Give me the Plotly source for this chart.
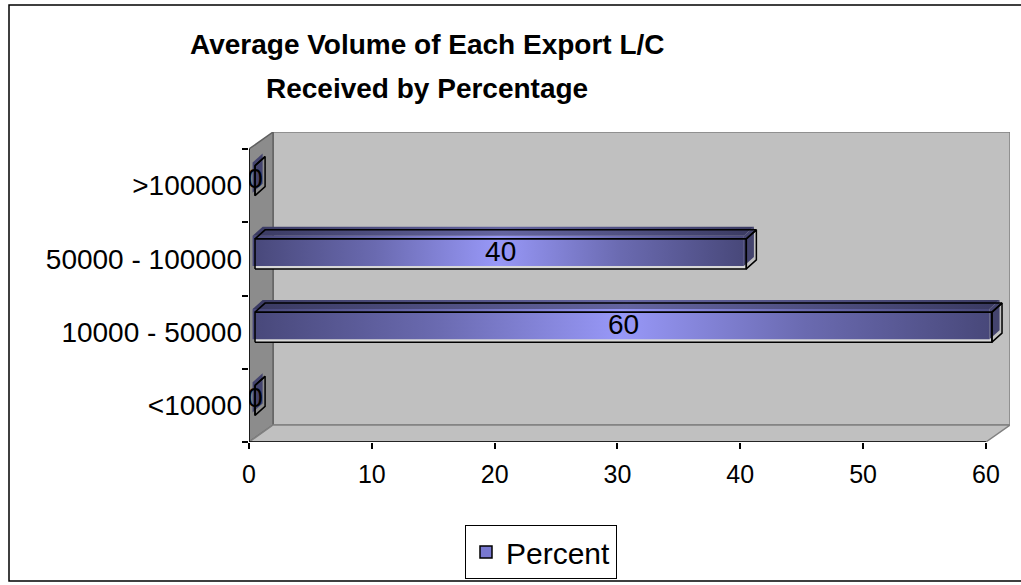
import plotly.graph_objects as go

# ---- data ----
categories = ["<10000", "10000 - 50000", "50000 - 100000", ">100000"]
percent = [0, 60, 40, 0]
x_ticks = [0, 10, 20, 30, 40, 50, 60]
series_name = "Percent"
title_lines = ["Average Volume of Each Export L/C", "Received by Percentage"]

# ---- page / plot geometry (pixels) ----
FONT = "Liberation Sans, Arial, sans-serif"
W, H = 1021, 585
PLOT_L, PLOT_R, PLOT_T, PLOT_B = 249, 1010, 132, 442

# 3-D box depth, in axis units
DEPTH_X, DEPTH_Y = 1.96, 0.232
X_MAX = max(x_ticks) + DEPTH_X
Y_MAX = len(categories) + DEPTH_Y

# bar placement inside the box depth (axis units)
BAR_OX, BAR_OY = 0.49, 0.068     # front face offset from the front plane
BAR_HALF = 0.205                 # half thickness of the front face
BAR_DX, BAR_DY = 0.82, 0.123     # bar depth
FILL_SX, FILL_SY = -0.2, 0.041   # shading is drawn slightly off the outline


def paper_x(px):
    return (px - PLOT_L) / (PLOT_R - PLOT_L)


def paper_y(py):
    return (PLOT_B - py) / (PLOT_B - PLOT_T)


def path(points):
    return "M " + " L ".join(f"{x},{y}" for x, y in points) + " Z"


fig = go.Figure()

# ---- walls and floor ----
x_end = max(x_ticks)
y_end = len(categories)
shapes = [
    # back wall
    dict(type="path", xref="x", yref="y", layer="below",
         path=path([(DEPTH_X, DEPTH_Y), (X_MAX, DEPTH_Y), (X_MAX, Y_MAX), (DEPTH_X, Y_MAX)]),
         fillcolor="#C0C0C0", line=dict(color="#808080", width=1.5)),
    # left wall
    dict(type="path", xref="x", yref="y", layer="below",
         path=path([(0, 0), (DEPTH_X, DEPTH_Y), (DEPTH_X, Y_MAX), (0, y_end)]),
         fillcolor="#8C8C8C", line=dict(color="#606060", width=1.5)),
    # floor
    dict(type="path", xref="x", yref="y", layer="below",
         path=path([(0, 0), (x_end, 0), (X_MAX, DEPTH_Y), (DEPTH_X, DEPTH_Y)]),
         fillcolor="#C0C0C0", line=dict(color="#808080", width=1.5)),
    # front axis edges
    dict(type="line", xref="x", yref="y", x0=0, y0=0, x1=x_end, y1=0,
         line=dict(color="black", width=1.5)),
    dict(type="line", xref="x", yref="y", x0=0, y0=0, x1=0, y1=y_end,
         line=dict(color="black", width=1.5)),
    # chart frame
    dict(type="rect", xref="paper", yref="paper",
         x0=paper_x(9), x1=paper_x(1030), y0=paper_y(581), y1=paper_y(5),
         line=dict(color="black", width=1.5), fillcolor="rgba(0,0,0,0)"),
]

front_scale = [[0, "#48487A"], [0.25, "#6A6AB0"], [0.5, "#9898F8"],
               [0.75, "#6A6AB0"], [1, "#48487A"]]
top_scale = [[0, "#3A3A62"], [0.5, "#6464A0"], [1, "#3A3A62"]]


def face(points, fill=None, gradient=None, shift=True, outline=True):
    xs = [p[0] for p in points] + [points[0][0]]
    ys = [p[1] for p in points] + [points[0][1]]
    if fill is not None or gradient is not None:
        sx = FILL_SX if shift else 0
        sy = FILL_SY if shift else 0
        kw = dict(x=[x + sx for x in xs], y=[y + sy for y in ys], mode="lines",
                  fill="toself", line=dict(width=0), hoverinfo="skip",
                  showlegend=False)
        if gradient is not None:
            kw["fillgradient"] = dict(type="horizontal", colorscale=gradient)
        else:
            kw["fillcolor"] = fill
        fig.add_trace(go.Scatter(**kw))
    if outline:
        fig.add_trace(go.Scatter(x=xs, y=ys, mode="lines",
                                 line=dict(color="black", width=1.5),
                                 hoverinfo="skip", showlegend=False))


for i, v in enumerate(percent):
    yc = i + 0.5 + BAR_OY
    y0, y1 = yc - BAR_HALF, yc + BAR_HALF
    x0, x1 = BAR_OX, v + BAR_OX
    front = [(x0, y0), (x1, y0), (x1, y1), (x0, y1)]
    top = [(x0, y1), (x1, y1), (x1 + BAR_DX, y1 + BAR_DY), (x0 + BAR_DX, y1 + BAR_DY)]
    end = [(x1, y0), (x1 + BAR_DX, y0 + BAR_DY), (x1 + BAR_DX, y1 + BAR_DY), (x1, y1)]
    if v > 0:
        face(front, fill="#D8D8D8", shift=False, outline=False)
        face(front, gradient=front_scale, outline=False)
        face(top, gradient=top_scale, outline=False)
    face(end, fill="#44446E", outline=False)
    face(front)
    face(top)
    face(end)

# value labels on the bar fronts
fig.add_trace(go.Scatter(
    x=[v / 2 + BAR_OX for v in percent],
    y=[i + 0.5 + BAR_OY for i in range(len(percent))],
    text=[str(v) for v in percent], mode="text",
    textfont=dict(family=FONT, size=28, color="black"),
    hoverinfo="skip", showlegend=False))

# legend entry
fig.add_trace(go.Scatter(
    x=[None], y=[None], mode="markers", name=series_name,
    marker=dict(symbol="square", size=12, color="#7878D0",
                line=dict(color="black", width=1.5))))

annotations = [
    dict(text=f"<b>{title_lines[0]}</b>", xref="paper", yref="paper",
         x=paper_x(427), y=paper_y(45), xanchor="center", yanchor="middle",
         showarrow=False, font=dict(family=FONT, size=28, color="black")),
    dict(text=f"<b>{title_lines[1]}</b>", xref="paper", yref="paper",
         x=paper_x(427), y=paper_y(88), xanchor="center", yanchor="middle",
         showarrow=False, font=dict(family=FONT, size=28, color="black")),
]

fig.update_layout(
    width=W, height=H,
    margin=dict(l=PLOT_L, r=W - PLOT_R, t=PLOT_T, b=H - PLOT_B, pad=0,
                autoexpand=False),
    paper_bgcolor="white", plot_bgcolor="white",
    shapes=shapes, annotations=annotations,
    showlegend=True,
    legend=dict(xref="container", yref="container",
                x=541 / W, xanchor="center", y=1 - 552 / H, yanchor="middle",
                bordercolor="black", borderwidth=1, bgcolor="white",
                font=dict(family=FONT, size=30, color="black")),
    xaxis=dict(range=[0, X_MAX], tickmode="array", tickvals=x_ticks,
               ticks="outside", ticklen=6, tickwidth=1.5, tickcolor="black",
               showgrid=False, zeroline=False, showline=False, fixedrange=True,
               ticklabelstandoff=4, automargin=False,
               tickfont=dict(family=FONT, size=25, color="black")),
    yaxis=dict(range=[0, Y_MAX], tickmode="array",
               tickvals=[i + 0.5 for i in range(len(categories))],
               ticktext=categories, ticks="", showgrid=False, zeroline=False,
               showline=False, fixedrange=True, ticklabelstandoff=6,
               automargin=False,
               tickfont=dict(family=FONT, size=28, color="black"),
               minor=dict(tickmode="array", tickvals=list(range(len(categories) + 1)),
                          ticks="outside", ticklen=6, tickwidth=1.5,
                          tickcolor="black", showgrid=False)),
)

fig.write_html("out.html")
